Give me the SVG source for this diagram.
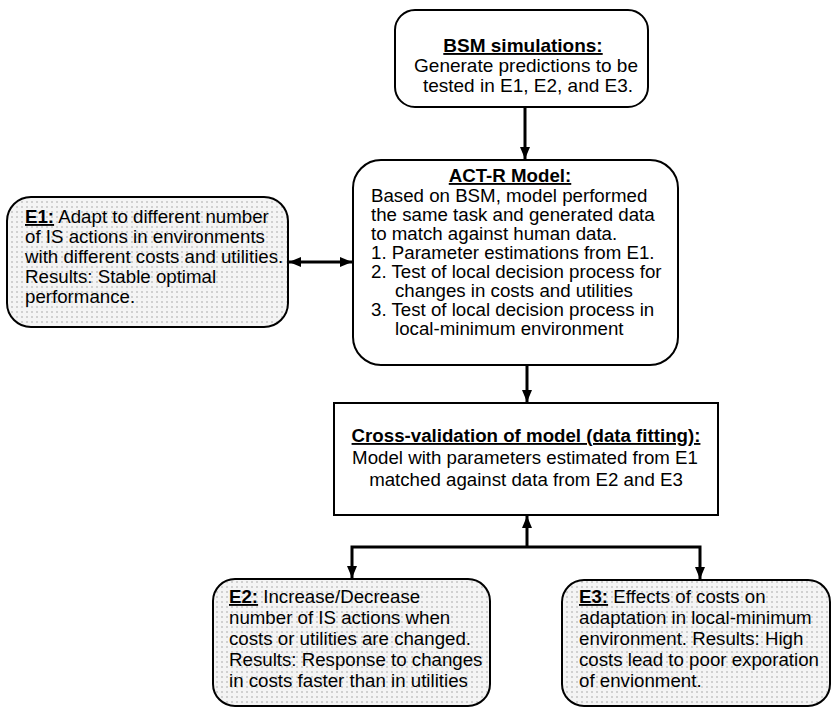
<svg xmlns="http://www.w3.org/2000/svg" width="832" height="707" viewBox="0 0 832 707">
<defs>
<pattern id="dots" x="0" y="0" width="5" height="5" patternUnits="userSpaceOnUse">
<rect width="5" height="5" fill="#f4f4f4"/>
<rect x="1" y="1" width="2" height="2" fill="#d0d0d0"/>
</pattern>
<marker id="arr" viewBox="0 0 12 10" refX="12" refY="5" markerWidth="12" markerHeight="10" markerUnits="userSpaceOnUse" orient="auto-start-reverse">
<path d="M0,0 L12,5 L0,10 z" fill="#000"/>
</marker>
<style>
text{font-family:"Liberation Sans",Arial,Helvetica,sans-serif;font-size:18.7px;fill:#000}
.h{font-weight:bold;text-decoration:underline}
.b{font-size:19px}
.box{fill:#fff;stroke:#000;stroke-width:2}
.dot{fill:url(#dots);stroke:#000;stroke-width:2}
.c{fill:none;stroke:#000;stroke-width:3}
</style>
</defs>
<rect width="832" height="707" fill="#fff"/>
<g id="connectors">
<line class="c" x1="525" y1="108" x2="525" y2="159" marker-end="url(#arr)"/>
<line class="c" x1="289" y1="262" x2="352" y2="262" marker-start="url(#arr)" marker-end="url(#arr)"/>
<line class="c" x1="527" y1="366" x2="527" y2="402" marker-end="url(#arr)"/>
<line class="c" x1="527" y1="547" x2="527" y2="516" marker-end="url(#arr)"/>
<polyline class="c" points="352,578 352,547 700,547 700,579" marker-start="url(#arr)" marker-end="url(#arr)"/>
</g>
<g id="bsm">
<rect class="box" x="395" y="10" width="253" height="97" rx="20"/>
<text x="523" y="52" text-anchor="middle" class="h b">BSM simulations:</text>
<text x="526" y="72" text-anchor="middle" class="b">Generate predictions to be</text>
<text x="528" y="92" text-anchor="middle" class="b">tested in E1, E2, and E3.</text>
</g>
<g id="actr">
<rect class="box" x="353" y="160" width="325" height="205" rx="28"/>
<text x="510" y="182" text-anchor="middle" class="h">ACT-R Model:</text>
<text x="371" y="202">Based on BSM, model performed</text>
<text x="371" y="221">the same task and generated data</text>
<text x="371" y="240">to match against human data.</text>
<text x="371" y="259">1. Parameter estimations from E1.</text>
<text x="371" y="278">2. Test of local decision process for</text>
<text x="395" y="297">changes in costs and utilities</text>
<text x="371" y="316">3. Test of local decision process in</text>
<text x="395" y="335">local-minimum environment</text>
</g>
<g id="e1">
<rect class="dot" x="7" y="197" width="281" height="130" rx="24"/>
<text x="25" y="223"><tspan class="h">E1:</tspan> Adapt to different number</text>
<text x="25" y="243">of IS actions in environments</text>
<text x="25" y="263">with different costs and utilities.</text>
<text x="25" y="283">Results: Stable optimal</text>
<text x="25" y="303">performance.</text>
</g>
<g id="crossval">
<rect class="box" x="334" y="403" width="384" height="112"/>
<text x="526" y="442" text-anchor="middle" class="h">Cross-validation of model (data fitting):</text>
<text x="525" y="464" text-anchor="middle">Model with parameters estimated from E1</text>
<text x="526" y="486" text-anchor="middle">matched against data from E2 and E3</text>
</g>
<g id="e2">
<rect class="dot" x="213" y="579" width="277" height="127" rx="22"/>
<text x="229" y="603"><tspan class="h">E2:</tspan> Increase/Decrease</text>
<text x="229" y="624">number of IS actions when</text>
<text x="229" y="645">costs or utilities are changed.</text>
<text x="229" y="666">Results: Response to changes</text>
<text x="229" y="687">in costs faster than in utilities</text>
</g>
<g id="e3">
<rect class="dot" x="562" y="580" width="268" height="126" rx="22"/>
<text x="579" y="603"><tspan class="h">E3:</tspan> Effects of costs on</text>
<text x="579" y="624">adaptation in local-minimum</text>
<text x="579" y="645">environment. Results: High</text>
<text x="579" y="666">costs lead to poor exporation</text>
<text x="579" y="687">of envionment.</text>
</g>
</svg>
